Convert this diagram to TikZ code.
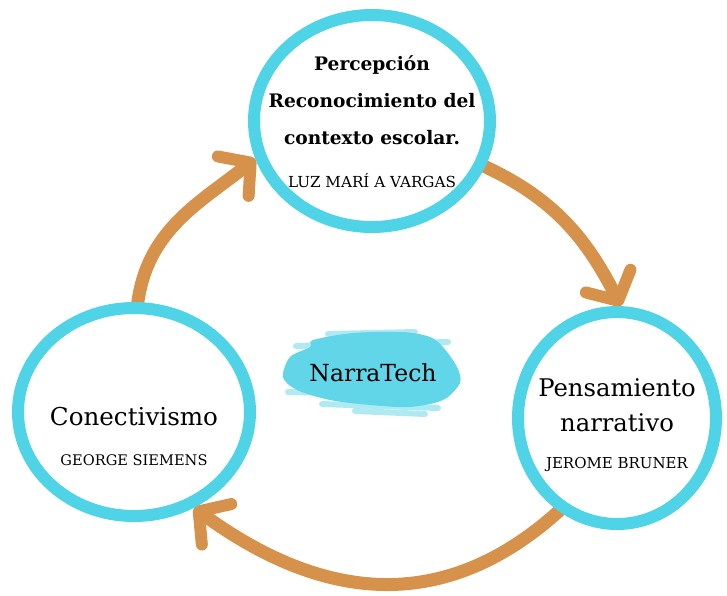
\documentclass[tikz,border=0pt]{standalone}
\usepackage{fontspec}
\setmainfont{DejaVu Serif}
\usetikzlibrary{positioning, arrows.meta, shapes.geometric}
\definecolor{ringcyan}{RGB}{78,211,231}
\definecolor{loopbrown}{RGB}{214,146,74}
\definecolor{brushcyan}{RGB}{96,214,232}
\pgfdeclarelayer{back}
\pgfsetlayers{back,main}

\begin{document}
\begin{tikzpicture}[x=1pt, y=1pt,
    ring/.style={ellipse, draw=ringcyan, fill=white, line width=12pt, inner sep=0pt},
    loop/.style={draw=loopbrown, line width=13pt, line cap=round,
      -{Straight Barb[length=22pt, width=50pt, line width=12pt, round]}},
    txt/.style={align=center, text=black}]
    \useasboundingbox (0,0) rectangle (727,-595);

    % Circles
    \node[ring, minimum width=236pt, minimum height=212pt] (per) at (372,-121) {};
    \node[ring, minimum width=232pt, minimum height=208pt] (con) at (134,-412) {};
    \node[ring, minimum width=198pt, minimum height=212pt] (pen) at (617,-418) {};

    % Texts
    \node[txt, font=\bfseries\fontsize{18.6}{37}\selectfont] (perT) at ([yshift=-1pt]per.center)
      {Percepción\\Reconocimiento del\\contexto escolar.\\[6pt]
       {\mdseries\fontsize{15.2}{16}\selectfont LUZ MARÍ A VARGAS}};
    \node[txt, font=\fontsize{24.6}{30}\selectfont] (conT) at ([yshift=-24pt]con.center)
      {Conectivismo\\[10pt]{\fontsize{14.6}{16}\selectfont GEORGE SIEMENS}};
    \node[txt, font=\fontsize{24.3}{35}\selectfont] (penT) at ([yshift=-7pt]pen.center)
      {Pensamiento\\narrativo\\[2pt]{\fontsize{15}{16}\selectfont JEROME BRUNER}};

    % Brush
    \fill[brushcyan] plot[smooth cycle] coordinates {(313,-340) (353,-333) (403,-332)
      (430,-337) (443,-347) (457,-367) (460,-383) (443,-400) (410,-407) (370,-405)
      (330,-400) (297,-390) (283,-377) (290,-357) (310,-347)};
    \foreach \ya/\yb/\xa/\xb in {334/332/328/415, 346/342/296/448, 392/395/288/446,
        404/408/322/438, 411/414/355/425}
      \draw[brushcyan, line width=6pt, line cap=round, opacity=0.5] (\xa,-\ya) -- (\xb,-\yb);
    \node[font=\fontsize{23.5}{26}\selectfont] (brand) at (373,-373) {NarraTech};

    % Arrows
    \begin{pgfonlayer}{back}
      \draw[loop] (con.88) to[out=82, in=218] (per.198);
      \draw[loop] (per.338) to[out=-25, in=117] (pen.88);
      \draw[loop] (pen.238) to[out=222, in=-36, looseness=1.1] (con.302);
    \end{pgfonlayer}
\end{tikzpicture}
\end{document}
